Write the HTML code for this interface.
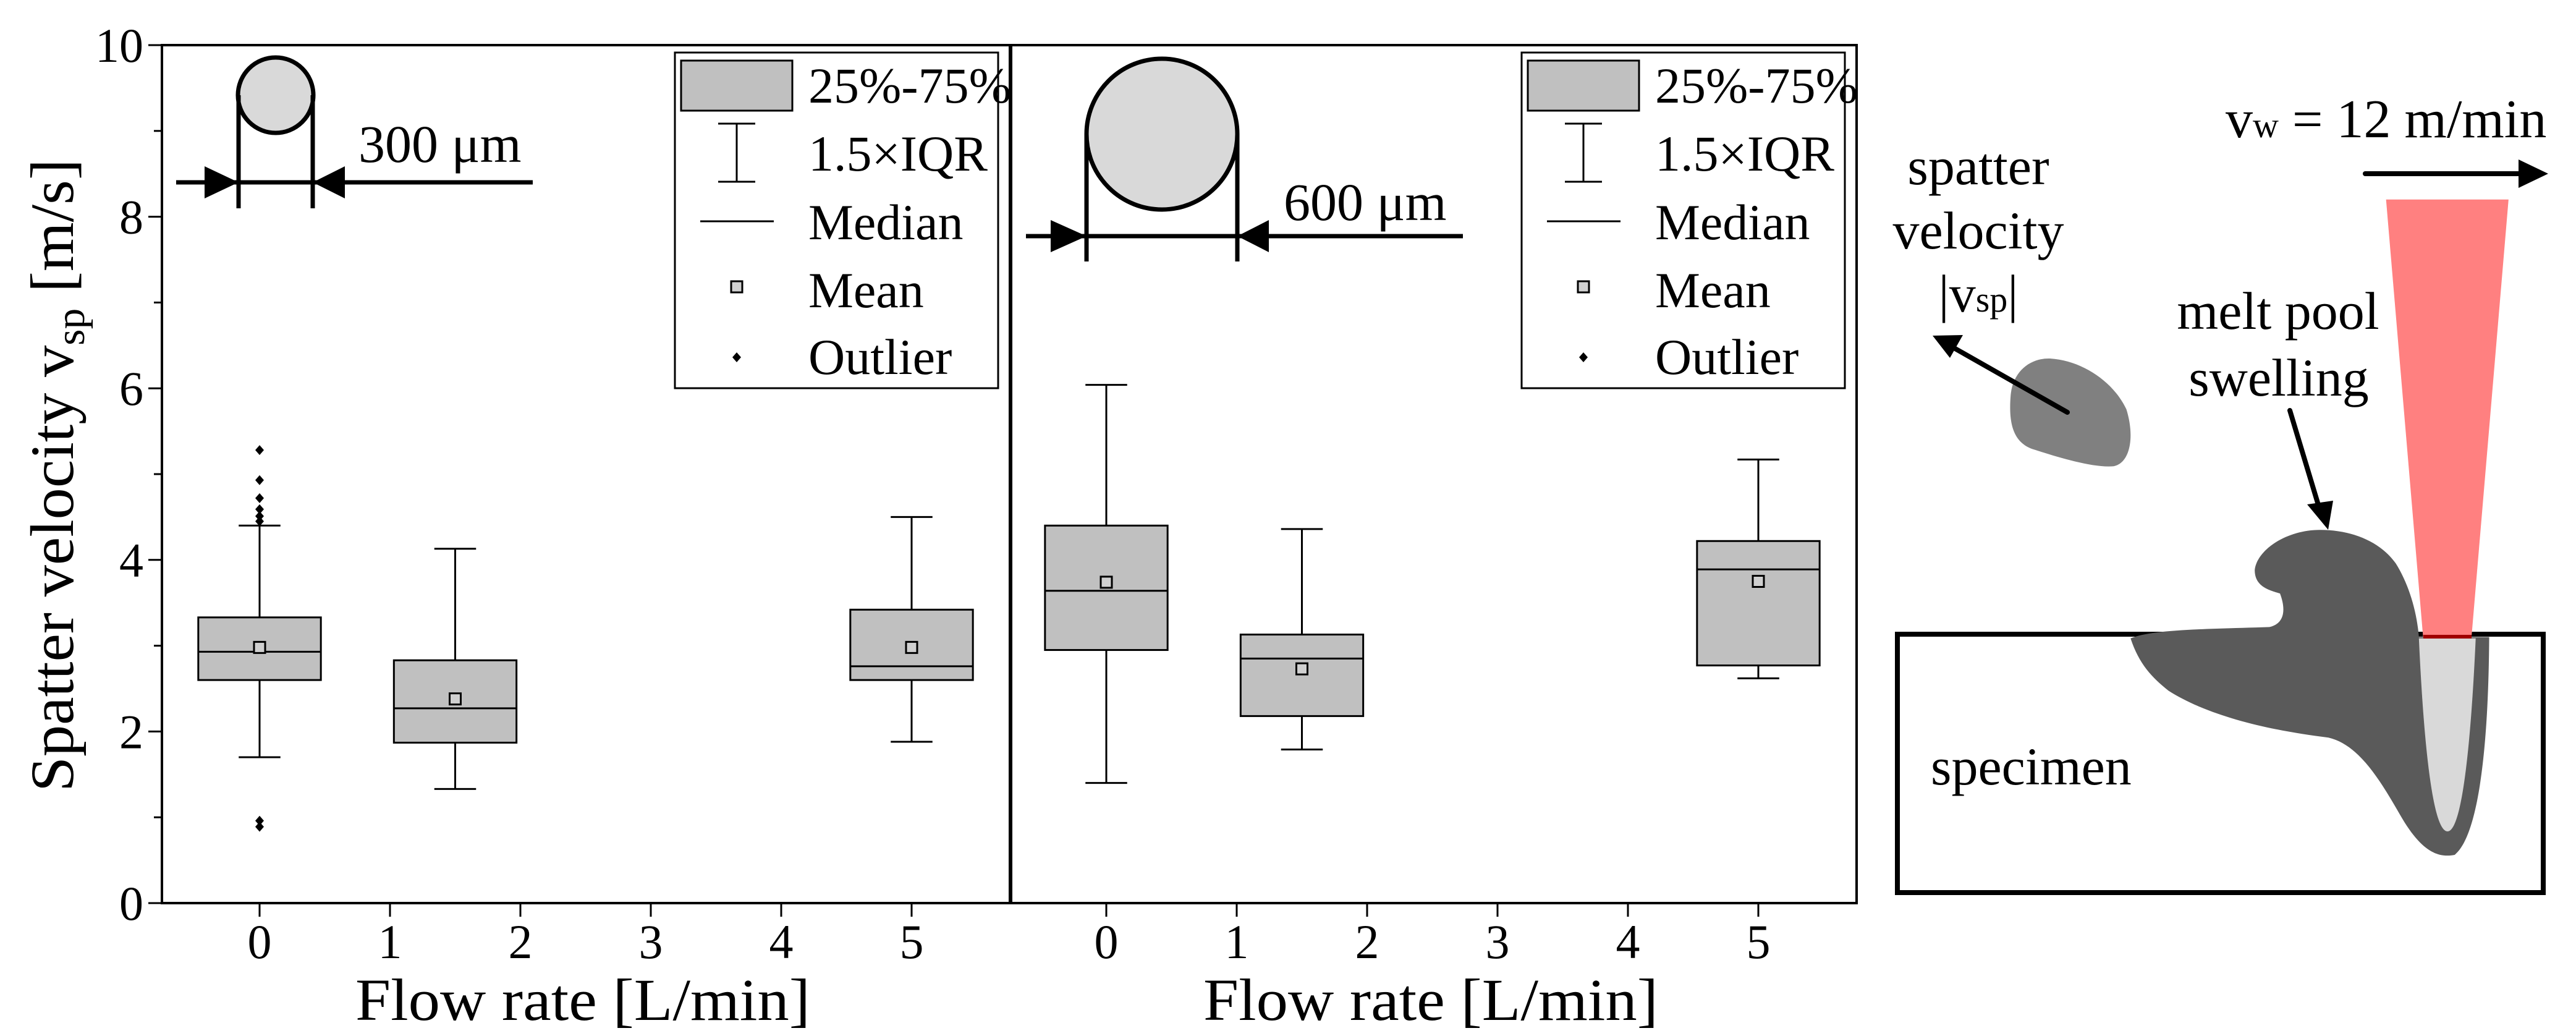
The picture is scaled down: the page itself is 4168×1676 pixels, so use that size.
<!DOCTYPE html>
<html><head><meta charset="utf-8"><style>
html,body{margin:0;padding:0;background:#fff;}
svg{display:block;}
text{font-family:"Liberation Serif",serif;fill:#000;}
</style></head><body>
<svg id="fig" width="4168" height="1676" viewBox="0 0 4168 1676" xmlns="http://www.w3.org/2000/svg" font-family="Liberation Serif, serif">
<g id="charts"></g>
<g id="insets">
  <g stroke="#000" stroke-width="7" fill="none">
    <circle cx="446" cy="154" r="61" fill="#d9d9d9"/>
    <line x1="386" y1="154" x2="386" y2="337"/>
    <line x1="506" y1="154" x2="506" y2="337"/>
    <line x1="285" y1="295" x2="862" y2="295"/>
    <polygon points="331,269 386,295 331,321" fill="#000" stroke="none"/>
    <polygon points="558,269 506,295 558,321" fill="#000" stroke="none"/>
  </g>
  <text x="580" y="262" font-size="86">300 μm</text>
  <g stroke="#000" stroke-width="7" fill="none">
    <circle cx="1880" cy="217" r="122" fill="#d9d9d9"/>
    <line x1="1758" y1="217" x2="1758" y2="423"/>
    <line x1="2002" y1="217" x2="2002" y2="423"/>
    <line x1="1660" y1="382" x2="2367" y2="382"/>
    <polygon points="1700,356 1758,382 1700,408" fill="#000" stroke="none"/>
    <polygon points="2053,356 2002,382 2053,408" fill="#000" stroke="none"/>
  </g>
  <text x="2077" y="356" font-size="86">600 μm</text>
</g>
<g id="diagram">
  <rect x="3070" y="1026" width="1045" height="418" fill="none" stroke="#000" stroke-width="8"/>
  <g transform="translate(3100,-10) scale(0.681,1.084)">
    <path d="M225 600 C230 560 280 540 330 545 C400 550 470 580 500 620 C520 660 510 700 470 705 C420 708 330 690 280 680 C230 670 220 640 225 600 Z" fill="#808080"/>
    <polygon points="1117,307 1408,307 1320,960 1205,960" fill="#ff8080"/>
    <path d="M510 962 C530 1000 560 1020 600 1040 C700 1080 850 1100 980 1110 C1050 1120 1100 1170 1150 1225 C1200 1280 1240 1290 1280 1285 C1330 1260 1360 1150 1362 960 L1195 960 C1190 920 1170 880 1140 850 C1100 815 1030 800 960 800 C880 800 810 830 805 860 C805 885 840 890 865 895 C880 920 875 940 840 945 C700 948 560 948 510 962 Z" fill="#5a5a5a"/>
    <path d="M1195 962 L1330 962 C1320 1100 1300 1250 1263 1250 C1225 1250 1205 1100 1195 962 Z" fill="#d9d9d9"/>
  </g>
  <line x1="3921" y1="1030" x2="3999" y2="1030" stroke="#a00000" stroke-width="6"/>
  <g>
    <line x1="3345" y1="667" x2="3160" y2="562" stroke="#000" stroke-width="8" stroke-linecap="round"/>
    <polygon points="3127,543 3176,542 3155,579" fill="#000"/>
  </g>
  <g>
    <line x1="3705" y1="664" x2="3752" y2="820" stroke="#000" stroke-width="8" stroke-linecap="round"/>
    <polygon points="3767,857 3733,816 3775,810" fill="#000"/>
  </g>
  <g>
    <line x1="3827" y1="281" x2="4080" y2="281" stroke="#000" stroke-width="8" stroke-linecap="round"/>
    <polygon points="4075,258 4123,281 4075,304" fill="#000"/>
  </g>
  <text x="3601" y="222" font-size="88">v<tspan font-size="58">w</tspan> = 12 m/min</text>
  <text x="3201" y="298" font-size="86" text-anchor="middle">spatter</text>
  <text x="3201" y="402" font-size="86" text-anchor="middle">velocity</text>
  <text x="3201" y="504" font-size="86" text-anchor="middle">|v<tspan font-size="58">sp</tspan>|</text>
  <text x="3686" y="532" font-size="86" text-anchor="middle">melt pool</text>
  <text x="3687" y="640" font-size="86" text-anchor="middle">swelling</text>
  <text x="3124" y="1269" font-size="86">specimen</text>
</g>
</svg>
<script>
// panel 1 (300 um nozzle)
const p1Positions = [0, 1.5, 5];
const p1Q1 = [2.60, 1.87, 2.60];
const p1Q3 = [3.33, 2.83, 3.42];
const p1Median = [2.93, 2.27, 2.76];
const p1Mean = [2.98, 2.38, 2.98];
const p1WhiskerLow = [1.70, 1.33, 1.88];
const p1WhiskerHigh = [4.40, 4.13, 4.50];
const p1OutlierX = [0, 0, 0, 0, 0, 0, 0, 0];
const p1OutlierY = [5.28, 4.93, 4.72, 4.59, 4.51, 4.45, 0.96, 0.89];
// panel 2 (600 um nozzle)
const p2Positions = [0, 1.5, 5];
const p2Q1 = [2.95, 2.18, 2.77];
const p2Q3 = [4.40, 3.13, 4.22];
const p2Median = [3.64, 2.85, 3.89];
const p2Mean = [3.74, 2.73, 3.75];
const p2WhiskerLow = [1.40, 1.79, 2.62];
const p2WhiskerHigh = [6.04, 4.36, 5.17];
const p2OutlierX = [];
const p2OutlierY = [];
const xTicks = [0, 1, 2, 3, 4, 5];
const yTicks = [0, 2, 4, 6, 8, 10];
const yMinorTicks = [1, 3, 5, 7, 9];
const legendLabels = ["25%-75%", "1.5×IQR", "Median", "Mean", "Outlier"];

const NS = "http://www.w3.org/2000/svg";
const root = document.getElementById("charts");
function mk(tag, attrs, parent) {
  const e = document.createElementNS(NS, tag);
  for (const k in attrs) e.setAttribute(k, attrs[k]);
  (parent || root).appendChild(e);
  return e;
}
const yTop = 73, yBot = 1461;
function yScale(v) { return yBot - v * (yBot - yTop) / 10; }

function panel(name, left, right, zeroX, pos, q1, q3, med, mean, wl, wh, ox, oy, showY) {
  const unit = 211;
  const xs = v => zeroX + v * unit;
  const g = mk("g", {});
  
  
  const fr = mk("rect", {x: left, y: yTop, width: right - left, height: yBot - yTop, fill: "none", stroke: "#000", "stroke-width": 4}, g);
  
  
  xTicks.forEach(t => {
    const tk = mk("line", {x1: xs(t), x2: xs(t), y1: yBot, y2: yBot + 22, stroke: "#000", "stroke-width": 3}, g);
    
    
    const lb = mk("text", {x: xs(t), y: 1550, "font-size": 78, "text-anchor": "middle"}, g);
    lb.textContent = t;
    
    
  });
  const xt = mk("text", {x: (left + right) / 2 - 5, y: 1650, "font-size": 96, "text-anchor": "middle", textLength: 736, lengthAdjust: "spacingAndGlyphs"}, g);
  xt.textContent = "Flow rate [L/min]";
  
  
  if (showY) {
    yTicks.forEach(t => {
      const tk = mk("line", {x1: left - 22, x2: left, y1: yScale(t), y2: yScale(t), stroke: "#000", "stroke-width": 3}, g);
      
      
      const lb = mk("text", {x: 232, y: yScale(t) + 27, "font-size": 78, "text-anchor": "end"}, g);
      lb.textContent = t;
      
      
    });
    yMinorTicks.forEach(t => {
      const tk = mk("line", {x1: left - 13, x2: left, y1: yScale(t), y2: yScale(t), stroke: "#000", "stroke-width": 3}, g);
      
      
    });
    const yt = mk("text", {x: 0, y: 0, "font-size": 100, "text-anchor": "middle", transform: "translate(118,769) rotate(-90)", textLength: 1024, lengthAdjust: "spacingAndGlyphs"}, g);
    yt.innerHTML = 'Spatter velocity v<tspan font-size="66" dy="18">sp</tspan><tspan dy="-18"> [m/s]</tspan>';
    
    
  }
  const hw = 0.47 * unit, cw = 0.16 * unit;
  pos.forEach((p, i) => {
    const cx = xs(p);
    const bg = mk("g", {stroke: "#000", "stroke-width": 3}, g);
    
    
    mk("line", {x1: cx, x2: cx, y1: yScale(wh[i]), y2: yScale(q3[i])}, bg);
    mk("line", {x1: cx, x2: cx, y1: yScale(q1[i]), y2: yScale(wl[i])}, bg);
    mk("line", {x1: cx - cw, x2: cx + cw, y1: yScale(wh[i]), y2: yScale(wh[i])}, bg);
    mk("line", {x1: cx - cw, x2: cx + cw, y1: yScale(wl[i]), y2: yScale(wl[i])}, bg);
    mk("rect", {x: cx - hw, y: yScale(q3[i]), width: 2 * hw, height: yScale(q1[i]) - yScale(q3[i]), fill: "#c0c0c0"}, bg);
    mk("line", {x1: cx - hw, x2: cx + hw, y1: yScale(med[i]), y2: yScale(med[i])}, bg);
    mk("rect", {x: cx - 9, y: yScale(mean[i]) - 9, width: 18, height: 18, fill: "#d0d0d0"}, bg);
  });
  ox.forEach((o, i) => {
    const cx = xs(o), cy = yScale(oy[i]);
    const d = mk("polygon", {points: `${cx},${cy-8} ${cx+7},${cy} ${cx},${cy+8} ${cx-7},${cy}`, fill: "#000"}, g);
    
    
  });
  const lx = right - 542;
  const lg = mk("g", {}, g);
  
  
  mk("rect", {x: lx, y: 85, width: 523, height: 543, fill: "#fff", stroke: "#000", "stroke-width": 3}, lg);
  const sx = lx + 100;
  mk("rect", {x: lx + 10, y: 98, width: 180, height: 81, fill: "#c0c0c0", stroke: "#000", "stroke-width": 3}, lg);
  mk("line", {x1: sx, x2: sx, y1: 200, y2: 294, stroke: "#000", "stroke-width": 3}, lg);
  mk("line", {x1: sx - 30, x2: sx + 30, y1: 200, y2: 200, stroke: "#000", "stroke-width": 3}, lg);
  mk("line", {x1: sx - 30, x2: sx + 30, y1: 294, y2: 294, stroke: "#000", "stroke-width": 3}, lg);
  mk("line", {x1: sx - 59, x2: sx + 60, y1: 358, y2: 358, stroke: "#000", "stroke-width": 3}, lg);
  mk("rect", {x: sx - 9, y: 455, width: 18, height: 18, fill: "#d0d0d0", stroke: "#000", "stroke-width": 3}, lg);
  mk("polygon", {points: `${sx},${570} ${sx+7},${578} ${sx},${586} ${sx-7},${578}`, fill: "#000"}, lg);
  const baselines = [166, 276, 387, 497, 605];
  legendLabels.forEach((l, i) => {
    const t = mk("text", {x: lx + 216, y: baselines[i], "font-size": 82}, lg);
    t.textContent = l;
    
    
  });
}
panel("panel-300um", 262, 1634, 420, p1Positions, p1Q1, p1Q3, p1Median, p1Mean, p1WhiskerLow, p1WhiskerHigh, p1OutlierX, p1OutlierY, true);
panel("panel-600um", 1636, 3004, 1790, p2Positions, p2Q1, p2Q3, p2Median, p2Mean, p2WhiskerLow, p2WhiskerHigh, p2OutlierX, p2OutlierY, false);
const svg = document.getElementById("fig");
svg.appendChild(document.getElementById("insets"));
</script>
</body></html>
